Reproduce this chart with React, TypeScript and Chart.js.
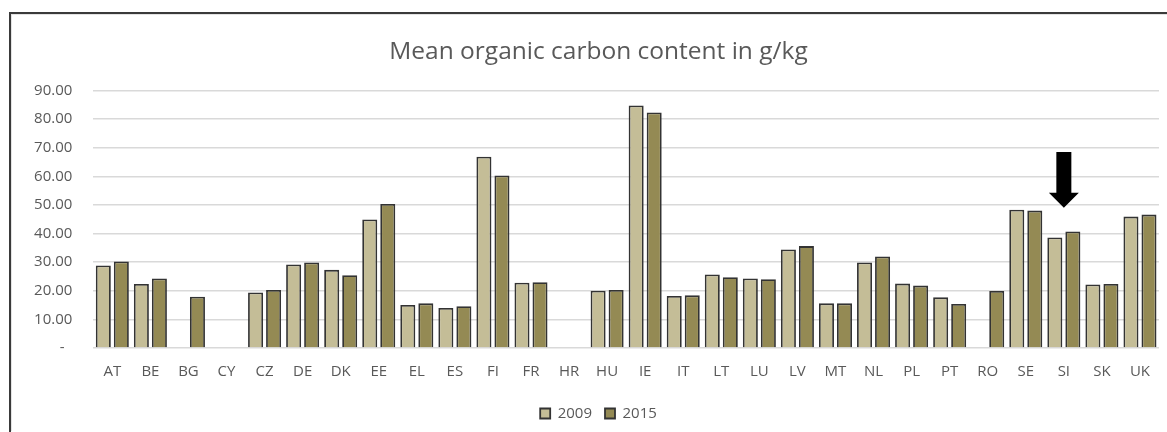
import React, { useEffect, useRef } from "react";
import { Chart, registerables } from "chart.js";

Chart.register(...registerables);

const TITLE = "Mean organic carbon content in g/kg";
const COUNTRIES = ["AT","BE","BG","CY","CZ","DE","DK","EE","EL","ES","FI","FR","HR","HU","IE","IT","LT","LU","LV","MT","NL","PL","PT","RO","SE","SI","SK","UK"];
const SERIES_2009: (number | null)[] = [28.8,22.4,null,null,19.4,29.2,27.3,44.9,15.0,14.0,66.8,22.8,null,20.0,84.7,18.2,25.7,24.3,34.4,15.6,29.9,22.5,17.7,null,48.3,38.6,22.2,45.9];
const SERIES_2015: (number | null)[] = [30.2,24.3,17.9,null,20.3,29.9,25.4,50.3,15.6,14.6,60.3,23.0,null,20.3,82.3,18.4,24.7,24.0,35.6,15.6,32.0,21.8,15.4,19.9,48.0,40.7,22.4,46.6];
const SERIES_LABELS = ["2009", "2015"];
const Y_MIN = 0;
const Y_MAX = 90;
const Y_STEP = 10;
// arrow annotation (category + value range)
const ARROW_CATEGORY = "SI";
const ARROW_TOP = 68.5;
const ARROW_HEAD = 54.2;
const ARROW_TIP = 49.0;

const FONT = "'Open Sans', 'DejaVu Sans', sans-serif";
const TEXT = "#595959";

const arrowPlugin = {
  id: "arrowPlugin",
  afterDatasetsDraw(chart: any) {
    const { ctx, scales } = chart;
    const idx = COUNTRIES.indexOf(ARROW_CATEGORY);
    const x = scales.x.getPixelForValue(idx);
    const yTop = scales.y.getPixelForValue(ARROW_TOP);
    const yHead = scales.y.getPixelForValue(ARROW_HEAD);
    const yTip = scales.y.getPixelForValue(ARROW_TIP);
    const sw = 7.5;
    const hw = 15;
    ctx.save();
    ctx.fillStyle = "#000";
    ctx.beginPath();
    ctx.moveTo(x - sw, yTop);
    ctx.lineTo(x + sw, yTop);
    ctx.lineTo(x + sw, yHead);
    ctx.lineTo(x + hw, yHead);
    ctx.lineTo(x, yTip);
    ctx.lineTo(x - hw, yHead);
    ctx.lineTo(x - sw, yHead);
    ctx.closePath();
    ctx.fill();
    ctx.restore();
  },
};

export default function App() {
  const ref = useRef<HTMLCanvasElement | null>(null);
  useEffect(() => {
    if (!ref.current) return;
    const chart = new Chart(ref.current, {
      type: "bar",
      data: {
        labels: COUNTRIES,
        datasets: [
          {
            label: SERIES_LABELS[0],
            data: SERIES_2009,
            backgroundColor: "#c4bd97",
            borderColor: "#333333",
            borderWidth: 1.8,
            categoryPercentage: 0.947,
            barPercentage: 0.833,
          },
          {
            label: SERIES_LABELS[1],
            data: SERIES_2015,
            backgroundColor: "#948a54",
            borderColor: "#333333",
            borderWidth: 1.8,
            categoryPercentage: 0.947,
            barPercentage: 0.833,
          },
        ],
      },
      options: {
        animation: false,
        responsive: false,
        maintainAspectRatio: false,
        layout: { padding: { left: 0, right: 0, top: 0, bottom: 0 } },
        plugins: {
          title: {
            display: true,
            text: TITLE,
            color: TEXT,
            font: { family: FONT, size: 24.5, weight: "normal" },
            padding: { top: 22, bottom: 24 },
          },
          legend: {
            position: "bottom",
            labels: {
              color: TEXT,
              font: { family: FONT, size: 15 },
              boxWidth: 10,
              boxHeight: 10,
              padding: 13,
            },
          },
          tooltip: { enabled: false },
        },
        scales: {
          x: {
            grid: { display: false, drawTicks: false },
            border: { display: false },
            ticks: { color: TEXT, font: { family: FONT, size: 15 }, padding: 15, maxRotation: 0, autoSkip: false },
            afterFit: (s: any) => {
              s.height = s.height - 3;
            },
          },
          y: {
            min: Y_MIN,
            max: Y_MAX,
            grid: { color: "#d9d9d9", lineWidth: 1.5, drawTicks: false },
            border: { display: false },
            ticks: {
              stepSize: Y_STEP,
              color: TEXT,
              font: { family: FONT, size: 15 },
              padding: 21,
              callback: (v: any) => (Number(v) === 0 ? "-\u00A0\u00A0" : Number(v).toFixed(2)),
            },
            afterFit: (s: any) => {
              s.width = 81.3;
            },
          },
          yRight: {
            type: "linear",
            position: "right",
            display: true,
            grid: { display: false, drawTicks: false },
            border: { display: false },
            ticks: { display: false },
            afterFit: (s: any) => {
              s.width = 26;
            },
          },
        },
      },
      plugins: [arrowPlugin],
    });
    return () => chart.destroy();
  }, []);

  return (
    <div style={{ position: "fixed", left: 0, top: 0, width: 1167, height: 432, overflow: "hidden", background: "#fff" }}>
      <div style={{ position: "absolute", left: 9, top: 12, width: 1200, height: 460, borderTop: "2px solid #3a3a3a", borderLeft: "2px solid #3a3a3a" }}>
        <div style={{ borderTop: "1px solid #e3e3e3", borderLeft: "1px solid #e3e3e3" }}>
          <canvas ref={ref} width={1173} height={416} style={{ display: "block", width: 1173, height: 416 }} />
        </div>
      </div>
    </div>
  );
}
